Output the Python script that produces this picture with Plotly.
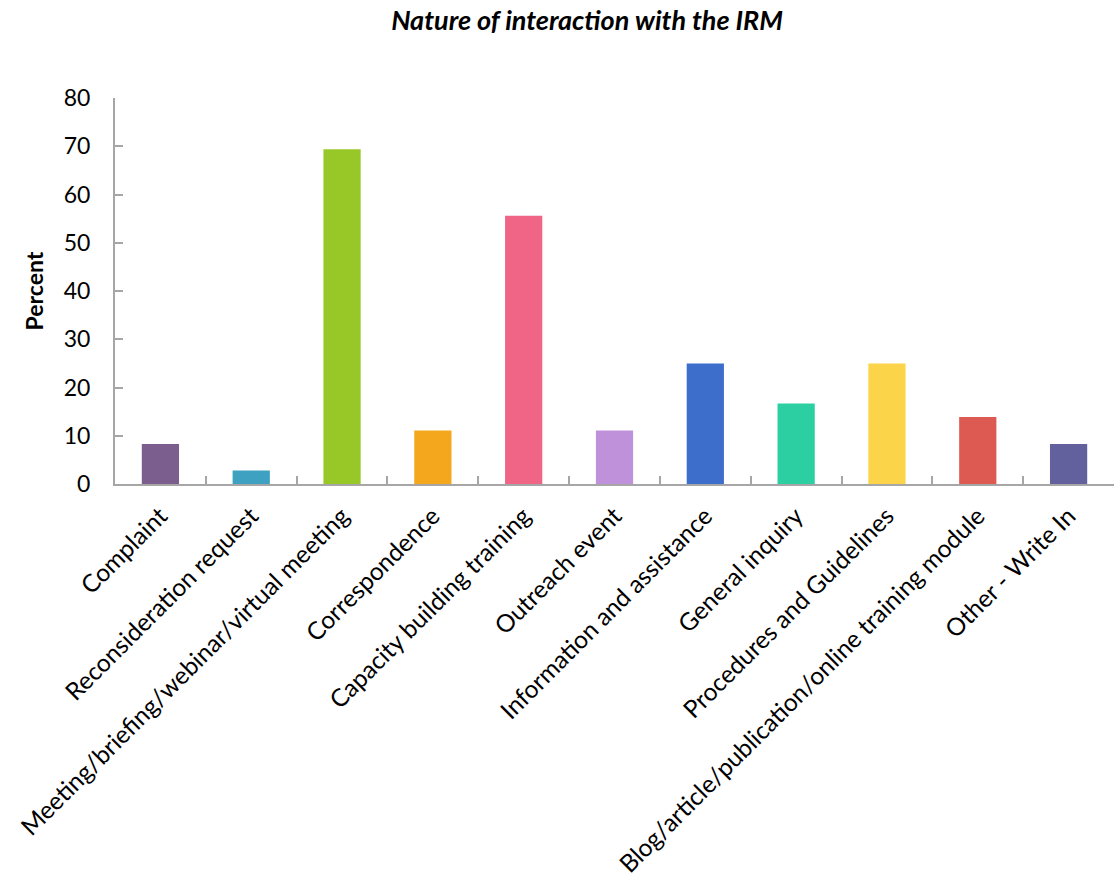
import plotly.graph_objects as go

categories = ["Complaint", "Reconsideration request", "Meeting/briefing/webinar/virtual meeting",
              "Correspondence", "Capacity building training", "Outreach event",
              "Information and assistance", "General inquiry", "Procedures and Guidelines",
              "Blog/article/publication/online training module", "Other - Write In"]
values = [8.3, 2.8, 69.4, 11.1, 55.6, 11.1, 25.0, 16.7, 25.0, 13.9, 8.3]
colors = ["#7B5E8E", "#3FA1C2", "#97C828", "#F4A61C", "#F06586", "#BF91DA",
          "#3E6ECC", "#2BCFA2", "#FCD449", "#DD5A52", "#63609E"]
y_ticks = [0, 10, 20, 30, 40, 50, 60, 70, 80]

FONT = "Lato"

fig = go.Figure(go.Bar(x=categories, y=values, marker=dict(color=colors, line=dict(width=0)),
                       width=0.41))

fig.update_layout(
    width=1114, height=886,
    margin=dict(l=115, r=0, t=98, b=402),
    plot_bgcolor="white", paper_bgcolor="white",
    showlegend=False,
    font=dict(family=FONT, color="black"),
    title=dict(text="<b><i>Nature of interaction with the IRM</i></b>",
               x=0.527, xanchor="center", y=0.977, yanchor="middle",
               font=dict(family=FONT, size=27, color="black")),
)
fig.update_xaxes(
    range=[-0.5, 10.5], showline=True, linecolor="#A6A6A6", linewidth=2,
    ticks="inside", tickson="boundaries", ticklen=8, tickcolor="#A6A6A6", tickwidth=2,
    tickangle=-45, tickfont=dict(family=FONT, size=24.5, color="black"), ticklabelstandoff=6,
    showgrid=False, automargin=False,
)
fig.update_yaxes(
    range=[0, 80], tickvals=y_ticks, showline=True, linecolor="#A6A6A6", linewidth=2,
    ticks="inside", ticklen=8, tickcolor="#A6A6A6", tickwidth=2,
    tickfont=dict(family=FONT, size=23, color="black"), ticklabelstandoff=18,
    showgrid=False, zeroline=False, automargin=False,
    title=dict(text="<b>Percent</b>", font=dict(family=FONT, size=23, color="black"), standoff=14),
)
fig.write_html("out.html")
